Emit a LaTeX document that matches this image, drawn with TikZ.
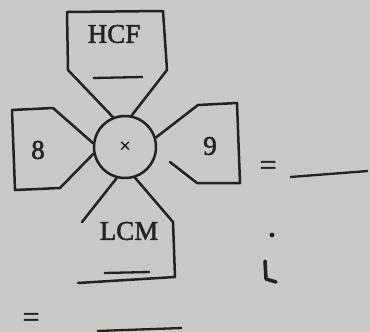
\documentclass[tikz,border=0pt]{standalone}
\usepackage{fontspec}
\setmainfont{Liberation Serif}[FakeBold=1.8]
\definecolor{paper}{HTML}{C9C9C5}
\definecolor{ink}{HTML}{222222}
\tikzset{
  outline/.style={draw=ink, line width=2.5pt, line join=round, line cap=round},
  lbl/.style={text=ink, inner sep=0pt, font=\fontsize{27}{30}\selectfont},
  blank/.style={draw=ink, line width=2.3pt},
}
\begin{document}
\begin{tikzpicture}[x=1pt,y=-1pt]
\fill[paper] (0,0) rectangle (370,332);
\useasboundingbox (0,0) rectangle (370,332);
\node[circle, outline, minimum size=62pt, inner sep=0pt] (c) at (125,147) {};
\node[text=ink, inner sep=0pt, font=\fontsize{20}{20}\selectfont] (x) at (c) {×};
% HCF box
\draw[outline] (c.112) -- (68,70) -- (67,12) -- (163,11) -- (167,70) -- (c.78);
\node[lbl] (hcf) at (114,34) {HCF};
\coordinate (h1) at (93,78); \coordinate (h2) at (143,77);
\draw[blank] (h1) -- (h2);
% 8 box
\draw[outline] (c.173) -- (53,108) -- (12,110) -- (15,190) -- (60,188) -- (c.192);
\node[lbl] (eight) at (38,150) {8};
% 9 box
\coordinate (r9) at (170,162);
\draw[outline] (c.17) -- (198,105) -- (237,103) -- (240,183) -- (197,183) -- (r9);
\node[lbl] (nine) at (210,146) {9};
% LCM box
\coordinate (l1) at (82,222);
\draw[outline] (c.255) -- (l1);
\coordinate (l2) at (78,283);
\draw[outline] (c.288) -- (173,222) -- (175,277) -- (l2);
\node[lbl] (lcm) at (129,231) {LCM};
\coordinate (u1) at (104,273); \coordinate (u2) at (150,272);
\draw[blank] (u1) -- (u2);
% right equals
\node[lbl, font=\fontsize{30}{30}\selectfont] (eq1) at (268,168) {=};
\coordinate (e1) at (290,177); \coordinate (e2) at (368,171);
\draw[blank] (e1) -- (e2);
% marks
\fill[ink] (272,235) circle (2.4);
\draw[ink, line width=3.5pt, line cap=round, line join=round] (265,261) -- (266,279) -- (276,282);
% bottom equals
\node[lbl, font=\fontsize{30}{30}\selectfont] (eq2) at (31,320) {=};
\coordinate (b1) at (97,331); \coordinate (b2) at (182,328);
\draw[blank] (b1) -- (b2);
\end{tikzpicture}
\end{document}
